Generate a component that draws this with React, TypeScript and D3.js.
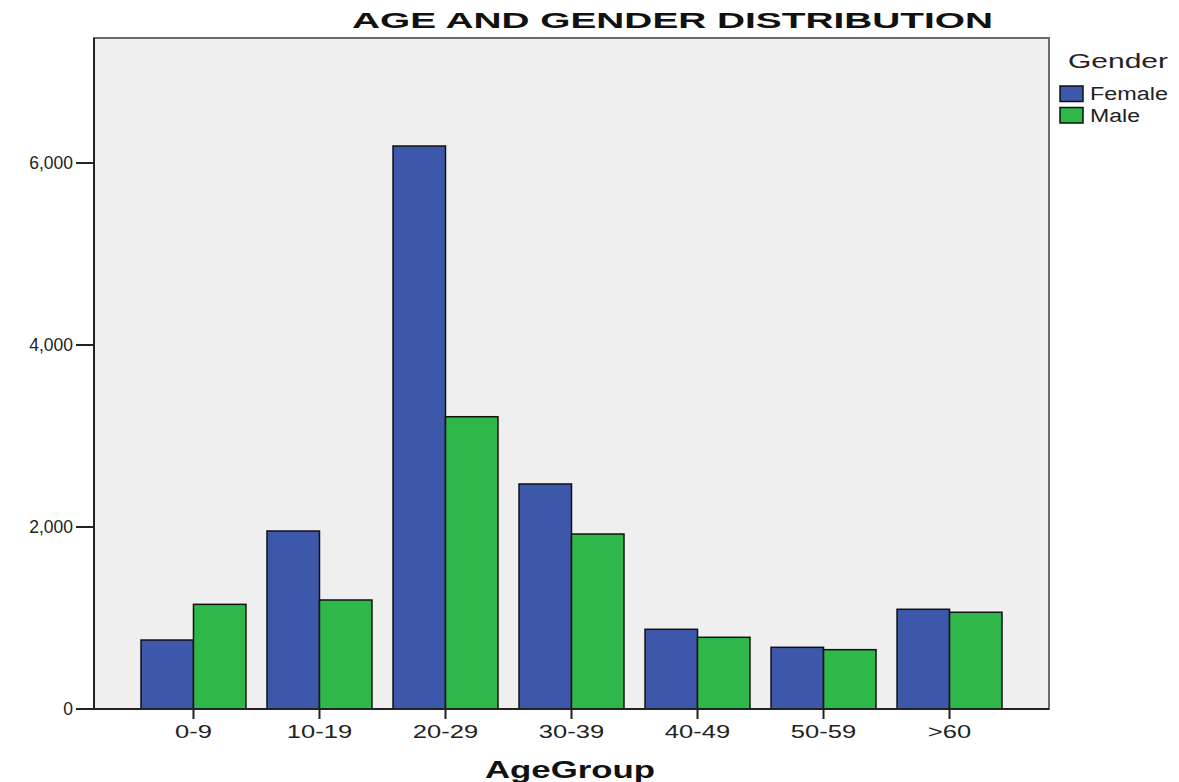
import React from "react";
import * as d3 from "d3";

const categories = ["0-9", "10-19", "20-29", "30-39", "40-49", "50-59", ">60"];
const female = [758, 1956, 6187, 2473, 876, 678, 1096];
const male = [1150, 1198, 3212, 1923, 788, 652, 1063];
const seriesNames = ["Female", "Male"];
const seriesColors = ["#3d57aa", "#2eb84a"];
const yTicks = [0, 2000, 4000, 6000];

const W = 1179;
const H = 782;
const M = { left: 94, right: 130, top: 38, bottom: 73 };
const FONT = "Liberation Sans, Arial, sans-serif";

export default function App() {
  const x0 = M.left;
  const x1 = W - M.right;
  const yTop = M.top;
  const yBot = H - M.bottom;

  const xBand = d3
    .scaleBand<string>()
    .domain(categories)
    .range([x0, x1])
    .paddingInner(0.167)
    .paddingOuter(0.373);
  const xSub = d3
    .scaleBand<string>()
    .domain(seriesNames)
    .range([0, xBand.bandwidth()]);
  const y = d3.scaleLinear().domain([0, 7374]).range([yBot, yTop]);
  const fmt = d3.format(",");
  const values = [female, male];
  const legendLen = [78, 50];

  return (
    <svg width={W} height={H} style={{ position: "absolute", left: 0, top: 0, background: "#fff" }}>
      <rect x={x0} y={yTop} width={x1 - x0} height={yBot - yTop} fill="#efefef" stroke="#6a6a6a" strokeWidth={2} />
      {categories.map((c, i) =>
        seriesNames.map((s, j) => {
          const v = values[j][i];
          const bx = (xBand(c) as number) + (xSub(s) as number);
          return (
            <rect
              key={c + s}
              x={bx}
              y={y(v)}
              width={xSub.bandwidth()}
              height={yBot - y(v)}
              fill={seriesColors[j]}
              stroke="#111"
              strokeWidth={1.5}
            />
          );
        })
      )}
      <line x1={x0} x2={x1} y1={yBot} y2={yBot} stroke="#222" strokeWidth={2} />
      <line x1={x0} x2={x0} y1={yTop} y2={yBot} stroke="#222" strokeWidth={2} />
      {yTicks.map((t) => (
        <g key={t}>
          <line x1={x0 - 18} x2={x0} y1={y(t)} y2={y(t)} stroke="#222" strokeWidth={2} />
          <text
            x={x0 - 21}
            y={y(t)}
            dy="0.36em"
            textAnchor="end"
            fontFamily={FONT}
            fontSize={17.5}
            fill="#222"
          >
            {fmt(t)}
          </text>
        </g>
      ))}
      {categories.map((c) => {
        const cx = (xBand(c) as number) + xBand.bandwidth() / 2;
        return (
          <g key={c}>
            <line x1={cx} x2={cx} y1={yBot} y2={yBot + 10} stroke="#222" strokeWidth={2} />
            <text
              transform={`translate(${cx},${yBot + 29}) scale(1.42,1)`}
              textAnchor="middle"
              fontFamily={FONT}
              fontSize={18}
              fill="#222"
            >
              {c}
            </text>
          </g>
        );
      })}
      <text
        x={485}
        y={778}
        textLength={170}
        lengthAdjust="spacingAndGlyphs"
        fontFamily={FONT}
        fontWeight="bold"
        fontSize={24}
        fill="#111"
      >
        AgeGroup
      </text>
      <text
        x={352}
        y={28}
        textLength={641}
        lengthAdjust="spacingAndGlyphs"
        fontFamily={FONT}
        fontWeight="bold"
        fontSize={22.5}
        fill="#111"
      >
        AGE AND GENDER DISTRIBUTION
      </text>
      <text
        x={1068}
        y={68}
        textLength={100}
        lengthAdjust="spacingAndGlyphs"
        fontFamily={FONT}
        fontSize={20}
        fill="#222"
      >
        Gender
      </text>
      {seriesNames.map((s, j) => (
        <g key={s}>
          <rect
            x={1060}
            y={86 + j * 21.5}
            width={23}
            height={15.5}
            fill={seriesColors[j]}
            stroke="#111"
            strokeWidth={1.5}
          />
          <text
            x={1090}
            y={100 + j * 22}
            textLength={legendLen[j]}
            lengthAdjust="spacingAndGlyphs"
            fontFamily={FONT}
            fontSize={18}
            fill="#222"
          >
            {s}
          </text>
        </g>
      ))}
    </svg>
  );
}
